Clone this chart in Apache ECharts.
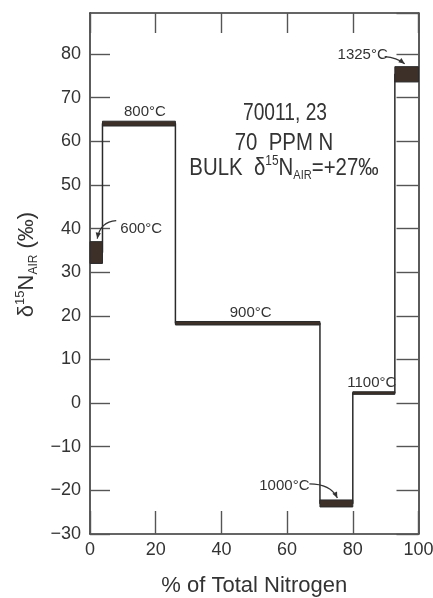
<!DOCTYPE html>
<html><head><meta charset="utf-8">
<script src="https://cdn.jsdelivr.net/npm/echarts@6/dist/echarts.min.js"></script>
<style>html,body{margin:0;padding:0;background:#fff}#c{width:433px;height:598px}</style>
</head><body><div id="c"></div>
<script>
// ---- data ----
const temps = ['600°C', '800°C', '900°C', '1000°C', '1100°C', '1325°C'];
const fracStart = [0, 3.8, 26, 70, 80, 92.8];      // cumulative % of total N (step start)
const fracEnd = [3.8, 26, 70, 80, 92.8, 100];      // cumulative % of total N (step end)
const deltaLow = [32.0, 63.5, 17.9, -23.8, 2.0, 73.6];
const deltaHigh = [37.0, 64.6, 18.7, -22.2, 2.6, 77.1];
const xTickLabels = [0, 20, 40, 60, 80, 100];
const yTickLabels = [-30, -20, -10, 0, 10, 20, 30, 40, 50, 60, 70, 80];
const sampleLines = ['70011, 23', '70  PPM N'];
const bulkDelta = '+27';

// ---- layout (pixels, relative to the top-centre of each band) ----
const labelLayout = [
  {dx: 45, dy: -13, arrow: [[20, -21], [4, -20], [1, -3]]},
  {dx: 6, dy: -9},
  {dx: 3, dy: -9},
  {dx: -52, dy: -14, arrow: [[-27, -16], [-6, -16], [1, -2]]},
  {dx: -2, dy: -9},
  {dx: -44, dy: -12, arrow: [[-22, -10], [-10, -9], [-2, -3]]}
];

const FONT = 'Liberation Sans';
const INK = '#333';
const BAND = '#3d3029';

const bandData = temps.map((t, i) => [fracStart[i], fracEnd[i], deltaLow[i], deltaHigh[i]]);
const outline = [];
temps.forEach((t, i) => {
  const mid = (deltaLow[i] + deltaHigh[i]) / 2;
  outline.push([fracStart[i], mid], [fracEnd[i], mid]);
});

function renderBand(params, api) {
  const i = params.dataIndex;
  const p0 = api.coord([api.value(0), api.value(3)]);
  const p1 = api.coord([api.value(1), api.value(2)]);
  const children = [{
    type: 'rect',
    shape: {x: p0[0], y: p0[1], width: p1[0] - p0[0], height: Math.max(p1[1] - p0[1], 2)},
    style: {fill: BAND, stroke: '#2a2a2a', lineWidth: 1}
  }];
  const cx = (p0[0] + p1[0]) / 2, cy = p0[1];
  const L = labelLayout[i];
  children.push({
    type: 'text', x: cx + L.dx, y: cy + L.dy,
    style: {text: temps[i], font: '15px "' + FONT + '"', fill: INK, align: 'center', verticalAlign: 'middle'}
  });
  if (L.arrow) {
    const [s, c, e] = L.arrow;
    const sx = cx + s[0], sy = cy + s[1], qx = cx + c[0], qy = cy + c[1], ex = cx + e[0], ey = cy + e[1];
    children.push({
      type: 'bezierCurve',
      shape: {x1: sx, y1: sy, x2: ex, y2: ey, cpx1: qx, cpy1: qy},
      style: {stroke: INK, lineWidth: 1.2, fill: null}
    });
    const ang = Math.atan2(ey - qy, ex - qx);
    const len = 6, w = 2.6;
    const bx = ex - len * Math.cos(ang), by = ey - len * Math.sin(ang);
    children.push({
      type: 'polygon',
      shape: {points: [[ex, ey], [bx + w * Math.sin(ang), by - w * Math.cos(ang)], [bx - w * Math.sin(ang), by + w * Math.cos(ang)]]},
      style: {fill: INK}
    });
  }
  return {type: 'group', children};
}

const axisLineStyle = {show: true, onZero: false, lineStyle: {color: INK, width: 1.6}};
const tickStyle = {color: '#555', width: 1.4};
const fmtNum = v => String(v).replace('-', '\u2212');

const chart = echarts.init(document.getElementById('c'), null, {renderer: 'canvas'});
chart.setOption({
  backgroundColor: '#fff',
  animation: false,
  grid: {left: 90, right: 14.5, top: 13, bottom: 64, containLabel: false, outerBoundsMode: 'none'},
  xAxis: [{
    type: 'value', min: 0, max: 100, interval: 20, position: 'bottom',
    axisLine: axisLineStyle,
    axisTick: {show: true, inside: true, length: 23, lineStyle: tickStyle},
    axisLabel: {fontSize: 18, color: INK, fontFamily: FONT, margin: 7,
      formatter: v => xTickLabels.includes(v) ? fmtNum(v) : ''},
    splitLine: {show: false},
    name: '% of Total Nitrogen', nameLocation: 'middle', nameGap: 41,
    nameTextStyle: {fontSize: 22, color: INK, fontFamily: FONT}
  }, {
    type: 'value', min: 0, max: 100, interval: 20, position: 'top',
    axisLine: axisLineStyle,
    axisTick: {show: true, inside: true, length: 20, lineStyle: tickStyle},
    axisLabel: {show: false}, splitLine: {show: false}
  }],
  yAxis: [{
    type: 'value', min: -30, max: 89.4, interval: 10, position: 'left',
    axisLine: axisLineStyle,
    axisTick: {show: true, inside: true, length: 20, lineStyle: tickStyle},
    axisLabel: {fontSize: 18, color: INK, fontFamily: FONT, margin: 9, showMaxLabel: false,
      formatter: v => yTickLabels.includes(v) ? fmtNum(v) : ''},
    splitLine: {show: false},
    name: '{d|\u03b4}{sup|15}{d|N}{sub|AIR}{d| (\u2030)}',
    nameLocation: 'middle', nameGap: 46, nameRotate: 90,
    nameTextStyle: {
      color: INK, fontFamily: FONT, padding: [0, 0, 0, 18],
      rich: {
        d: {fontSize: 22, fontFamily: FONT, color: INK, lineHeight: 26},
        sup: {fontSize: 13, fontFamily: FONT, color: INK, lineHeight: 13, verticalAlign: 'top'},
        sub: {fontSize: 12, fontFamily: FONT, color: INK, lineHeight: 12, verticalAlign: 'bottom'}
      }
    }
  }, {
    type: 'value', min: -30, max: 89.4, interval: 10, position: 'right',
    axisLine: axisLineStyle,
    axisTick: {show: true, inside: true, length: 22, lineStyle: tickStyle},
    axisLabel: {show: false}, splitLine: {show: false}
  }],
  series: [{
    type: 'line', xAxisIndex: 0, yAxisIndex: 0, data: outline,
    showSymbol: false, symbol: 'none', z: 2,
    lineStyle: {color: '#2a2a2a', width: 1.5}
  }, {
    type: 'custom', xAxisIndex: 0, yAxisIndex: 0, data: bandData, z: 3,
    encode: {x: [0, 1], y: [2, 3]},
    renderItem: renderBand
  }],
  graphic: [
    {type: 'text', x: 285, y: 113, scaleX: 0.8,
      style: {text: sampleLines[0], font: '24px "' + FONT + '"', fill: INK, align: 'center', verticalAlign: 'middle'}},
    {type: 'text', x: 284, y: 143, scaleX: 0.85,
      style: {text: sampleLines[1], font: '24px "' + FONT + '"', fill: INK, align: 'center', verticalAlign: 'middle'}},
    {type: 'text', x: 284, y: 168, scaleX: 0.85,
      style: {
        text: '{n|BULK  \u03b4}{sup|15}{n|N}{sub|AIR}{n|=' + bulkDelta + '\u2030}',
        align: 'center', verticalAlign: 'middle',
        rich: {
          n: {fontSize: 24, fontFamily: FONT, fill: INK, color: INK, lineHeight: 28},
          sup: {fontSize: 14, fontFamily: FONT, fill: INK, color: INK, lineHeight: 14, verticalAlign: 'top'},
          sub: {fontSize: 13, fontFamily: FONT, fill: INK, color: INK, lineHeight: 13, verticalAlign: 'bottom'}
        }
      }}
  ]
});
</script></body></html>
